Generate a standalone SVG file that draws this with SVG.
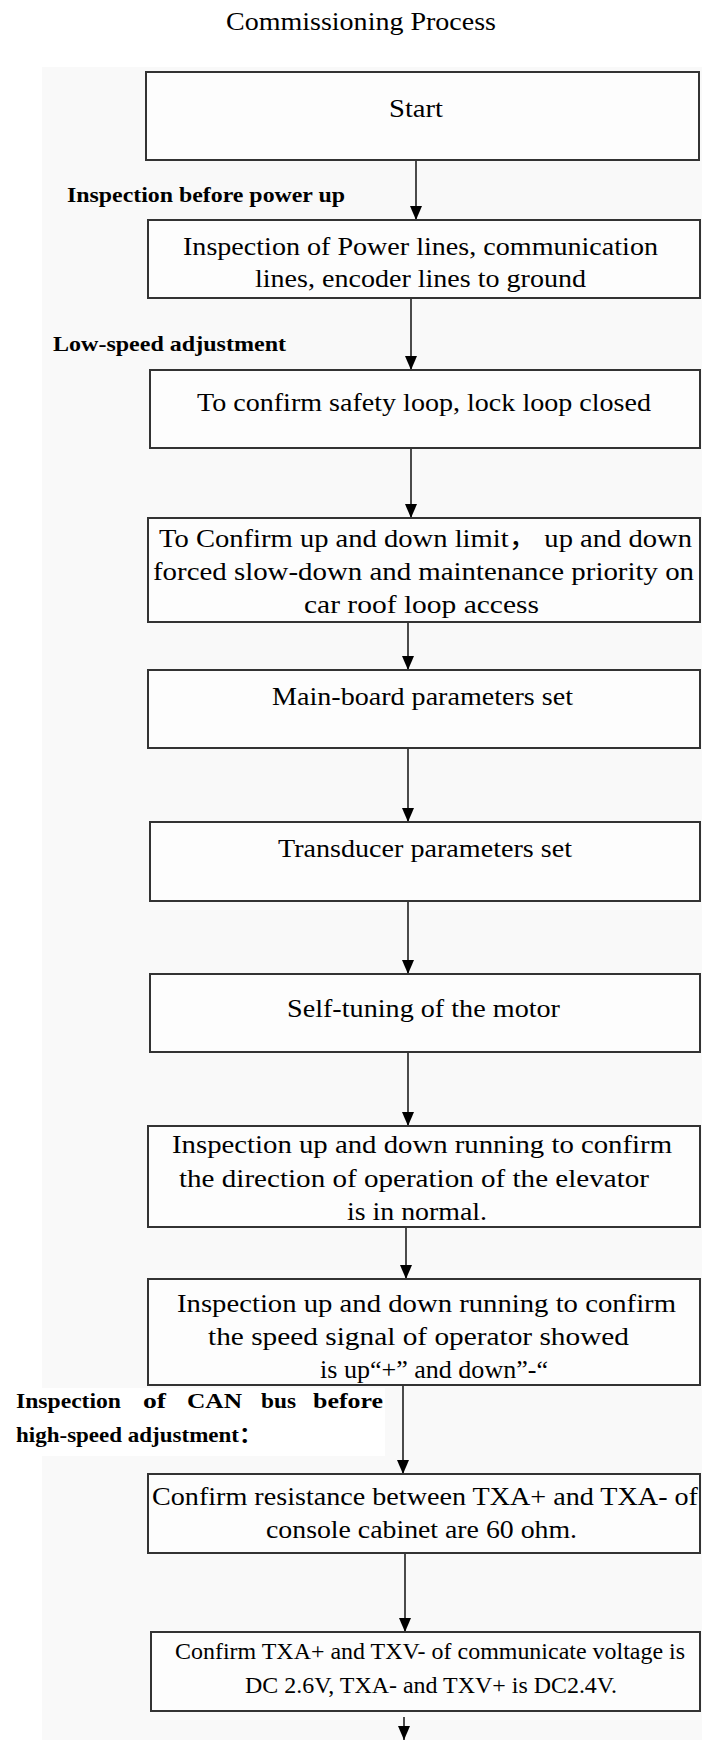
<svg xmlns="http://www.w3.org/2000/svg" width="702" height="1740" viewBox="0 0 702 1740">
<defs>
<marker id="ah" viewBox="0 0 14 12" refX="14" refY="6" markerWidth="14" markerHeight="12" markerUnits="userSpaceOnUse" orient="auto">
<path d="M0,0 L14,6 L0,12 z" fill="#000"/>
</marker>
<style>
.box{fill:#fdfdfd;stroke:#333;stroke-width:2}
.t{font-family:"Liberation Serif","Noto Sans CJK SC",serif;font-size:26px;fill:#000}
.s{font-size:23px}
.lbl{font-family:"Liberation Serif","Noto Sans CJK SC",serif;font-size:21px;font-weight:bold;fill:#000}
.title{font-family:"Liberation Serif",serif;font-size:26px;fill:#000}
.conn{stroke:#000;stroke-width:1.4;fill:none;marker-end:url(#ah)}
</style>
</defs>
<rect x="0" y="0" width="702" height="1740" fill="#fff"/>
<rect x="42" y="67" width="660" height="1673" fill="#f9f9f9"/>
<rect x="0" y="1388" width="385" height="68" fill="#fff"/>

<text class="title" x="226" y="30" textLength="270" lengthAdjust="spacingAndGlyphs">Commissioning Process</text>

<g id="labels">
<text class="lbl" x="67" y="202" textLength="278" lengthAdjust="spacingAndGlyphs">Inspection before power up</text>
<text class="lbl" x="53" y="351" textLength="233" lengthAdjust="spacingAndGlyphs">Low-speed adjustment</text>
<g id="can-label">
<text class="lbl" x="16" y="1408" textLength="105" lengthAdjust="spacingAndGlyphs">Inspection</text>
<text class="lbl" x="143" y="1408" textLength="23" lengthAdjust="spacingAndGlyphs">of</text>
<text class="lbl" x="187" y="1408" textLength="55" lengthAdjust="spacingAndGlyphs">CAN</text>
<text class="lbl" x="261" y="1408" textLength="35" lengthAdjust="spacingAndGlyphs">bus</text>
<text class="lbl" x="313" y="1408" textLength="70" lengthAdjust="spacingAndGlyphs">before</text>
<text class="lbl" x="16" y="1442" textLength="246" lengthAdjust="spacingAndGlyphs">high-speed adjustment：</text>
</g>
</g>

<g id="connectors">
<line class="conn" x1="416" y1="160" x2="416" y2="220"/>
<line class="conn" x1="411" y1="298" x2="411" y2="370"/>
<line class="conn" x1="411" y1="448" x2="411" y2="518"/>
<line class="conn" x1="408" y1="622" x2="408" y2="670"/>
<line class="conn" x1="408" y1="748" x2="408" y2="822"/>
<line class="conn" x1="408" y1="901" x2="408" y2="974"/>
<line class="conn" x1="408" y1="1052" x2="408" y2="1126"/>
<line class="conn" x1="406" y1="1227" x2="406" y2="1279"/>
<line class="conn" x1="403" y1="1385" x2="403" y2="1474"/>
<line class="conn" x1="405" y1="1553" x2="405" y2="1632"/>
<line class="conn" x1="404" y1="1717" x2="404" y2="1740"/>
</g>

<g id="start">
<rect class="box" x="146" y="72" width="553" height="88"/>
<text class="t" x="389" y="117" textLength="54" lengthAdjust="spacingAndGlyphs">Start</text>
</g>

<g id="inspect-lines">
<rect class="box" x="148" y="220" width="552" height="78"/>
<text class="t" x="183" y="255" textLength="475" lengthAdjust="spacingAndGlyphs">Inspection of Power lines, communication</text>
<text class="t" x="255" y="287" textLength="331" lengthAdjust="spacingAndGlyphs">lines, encoder lines to ground</text>
</g>

<g id="safety-loop">
<rect class="box" x="150" y="370" width="550" height="78"/>
<text class="t" x="197" y="411" textLength="454" lengthAdjust="spacingAndGlyphs">To confirm safety loop, lock loop closed</text>
</g>

<g id="limits">
<rect class="box" x="148" y="518" width="552" height="104"/>
<text class="t" x="159" y="547" textLength="533" lengthAdjust="spacingAndGlyphs">To Confirm up and down limit，  up and down</text>
<text class="t" x="153" y="580" textLength="541" lengthAdjust="spacingAndGlyphs">forced slow-down and maintenance priority on</text>
<text class="t" x="304" y="613" textLength="235" lengthAdjust="spacingAndGlyphs">car roof loop access</text>
</g>

<g id="mainboard">
<rect class="box" x="148" y="670" width="552" height="78"/>
<text class="t" x="272" y="705" textLength="301" lengthAdjust="spacingAndGlyphs">Main-board parameters set</text>
</g>

<g id="transducer">
<rect class="box" x="150" y="822" width="550" height="79"/>
<text class="t" x="278" y="857" textLength="294" lengthAdjust="spacingAndGlyphs">Transducer parameters set</text>
</g>

<g id="self-tuning">
<rect class="box" x="150" y="974" width="550" height="78"/>
<text class="t" x="287" y="1017" textLength="273" lengthAdjust="spacingAndGlyphs">Self-tuning of the motor</text>
</g>

<g id="direction">
<rect class="box" x="148" y="1126" width="552" height="101"/>
<text class="t" x="172" y="1153" textLength="500" lengthAdjust="spacingAndGlyphs">Inspection up and down running to confirm</text>
<text class="t" x="179" y="1187" textLength="470" lengthAdjust="spacingAndGlyphs">the direction of operation of the elevator</text>
<text class="t" x="347" y="1220" textLength="140" lengthAdjust="spacingAndGlyphs">is in normal.</text>
</g>

<g id="speed-signal">
<rect class="box" x="148" y="1279" width="552" height="106"/>
<text class="t" x="177" y="1312" textLength="499" lengthAdjust="spacingAndGlyphs">Inspection up and down running to confirm</text>
<text class="t" x="208" y="1345" textLength="421" lengthAdjust="spacingAndGlyphs">the speed signal of operator showed</text>
<text class="t" x="320" y="1378" textLength="228" lengthAdjust="spacingAndGlyphs">is up“+” and down”-“</text>
</g>

<g id="resistance">
<rect class="box" x="148" y="1474" width="552" height="79"/>
<text class="t" x="152" y="1505" textLength="546" lengthAdjust="spacingAndGlyphs">Confirm resistance between TXA+ and TXA- of</text>
<text class="t" x="266" y="1538" textLength="311" lengthAdjust="spacingAndGlyphs">console cabinet are 60 ohm.</text>
</g>

<g id="voltage">
<rect class="box" x="151" y="1632" width="549" height="79"/>
<text class="t s" x="175" y="1659" textLength="510" lengthAdjust="spacingAndGlyphs">Confirm TXA+ and TXV- of communicate voltage is</text>
<text class="t s" x="245" y="1693" textLength="372" lengthAdjust="spacingAndGlyphs">DC 2.6V, TXA- and TXV+ is DC2.4V.</text>
</g>
</svg>
